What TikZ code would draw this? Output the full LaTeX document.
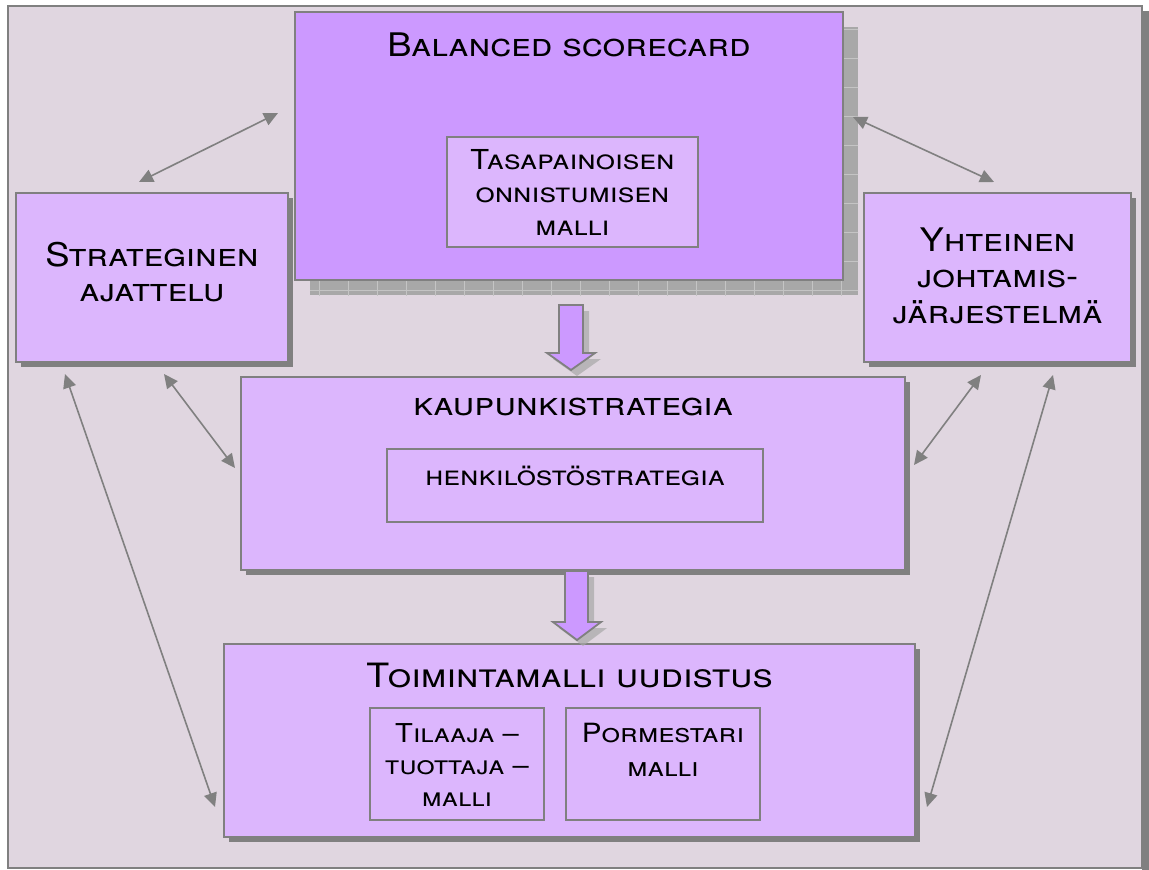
\documentclass[tikz,border=0pt]{standalone}
\usepackage{fontspec}
\setmainfont{TeX Gyre Heros}[FakeStretch=1.12]
\usetikzlibrary{arrows.meta,calc,shadows}
\definecolor{framebg}{HTML}{E0D6E0}
\definecolor{edge}{HTML}{808080}
\definecolor{bscfill}{HTML}{CC99FF}
\definecolor{boxfill}{HTML}{DCB6FD}
\definecolor{tilegray}{HTML}{A8A8A8}
\definecolor{tileline}{HTML}{C4C4C4}
\tikzset{
  card/.style={rectangle, draw=edge, line width=2pt, fill=boxfill, inner sep=0pt},
  shadowed/.style={drop shadow={shadow xshift=5pt, shadow yshift=-5pt, fill=edge, opacity=1}},
  caption/.style={font=\scshape, align=center, text=black, inner sep=0pt},
  conn/.style={draw=edge, line width=1.6pt,
    {Triangle[length=14pt,width=13pt]}-{Triangle[length=14pt,width=13pt]}},
  blockarrow/.style={draw=edge, line width=1.8pt, fill=bscfill, line join=miter},
  arrowshade/.style={fill=tilegray, opacity=0.7},
}
\newcommand{\fs}[2]{\fontsize{#1}{#2}\selectfont}
\begin{document}
\begin{tikzpicture}[x=1pt, y=-1pt]
\useasboundingbox (0,0) rectangle (1149,870);

% outer frame with its shadow on the right
\fill[edge] (1142,11) rectangle (1149,870);
\node[rectangle, draw=edge, line width=2pt, fill=framebg, inner sep=0pt,
      minimum width=1134pt, minimum height=862pt] (frame) at (575,437) {};

% balanced scorecard: tiled shadow, then the box
\fill[tilegray] (310,27) rectangle (858,295);
\begin{scope}
  \clip (310,27) rectangle (858,295);
  \draw[tileline, line width=0.8pt, step=29pt] (300,20) grid (870,300);
\end{scope}
\node[card, fill=bscfill, minimum width=548pt, minimum height=268pt] (bsc) at (569,146) {};
\node[caption, font=\scshape\fs{32.5}{32}] (bsctitle) at (569,45) {Balanced scorecard};
\node[card, minimum width=251pt, minimum height=110pt] (tas) at (572.5,192) {};
\node[caption, font=\scshape\fs{27.5}{33}] (tastext) at (572.5,192)
  {Tasapainoisen\\onnistumisen\\malli};

% side boxes
\node[card, shadowed, minimum width=272pt, minimum height=169pt] (strat) at (152,277.5) {};
\node[caption, font=\scshape\fs{32.5}{35}] (strattext) at (152,272)
  {Strateginen\\ajattelu};
\node[card, shadowed, minimum width=267pt, minimum height=169pt] (yht) at (997.5,277.5) {};
\node[caption, font=\scshape\fs{32.5}{36}] (yhttext) at (997.5,276)
  {Yhteinen\\johtamis-\\järjestelmä};

% city strategy
\node[card, shadowed, minimum width=664pt, minimum height=193pt] (kaup) at (573,473.5) {};
\node[caption, font=\scshape\fs{32.5}{32}] (kauptitle) at (573,407) {kaupunkistrategia};
\node[card, minimum width=376pt, minimum height=73pt] (henk) at (575,485.5) {};
\node[caption, font=\scshape\fs{27.5}{28}] (henktext) at (575,476) {henkilöstöstrategia};

% operating model reform
\node[card, shadowed, minimum width=691pt, minimum height=193pt] (toim) at (569.5,740.5) {};
\node[caption, font=\scshape\fs{33.5}{33}] (toimtitle) at (569.5,675) {Toimintamalli uudistus};
\node[card, minimum width=174pt, minimum height=112pt] (tila) at (457,764) {};
\node[caption, font=\scshape\fs{26}{32}] (tilatext) at (457,765)
  {Tilaaja –\\tuottaja –\\malli};
\node[card, minimum width=194pt, minimum height=112pt] (porm) at (663,764) {};
\node[caption, font=\scshape\fs{26.5}{34}] (pormtext) at (663,750)
  {Pormestari\\malli};

% block arrows with their shades
\fill[arrowshade] (565,311) -- (589,311) -- (589,359) -- (601,359) -- (577,376) -- (553,359) -- (565,359) -- cycle;
\draw[blockarrow] (559,305) -- (583,305) -- (583,353) -- (595,353) -- (571,370) -- (547,353) -- (559,353) -- cycle;
\fill[arrowshade] (571,577) -- (594,577) -- (594,628) -- (607,628) -- (583,646) -- (559,628) -- (571,628) -- cycle;
\draw[blockarrow] (565,571) -- (588,571) -- (588,622) -- (601,622) -- (577,640) -- (553,622) -- (565,622) -- cycle;

% two-way connectors
\draw[conn] ($(strat.north west)+(124,-10)$) -- ($(bsc.north west)+(-16,102)$);
\draw[conn] ($(bsc.north east)+(9,106)$) -- ($(yht.north west)+(131,-10)$);
\draw[conn] ($(strat.south west)+(149,11)$) -- ($(kaup.north west)+(-5,92)$);
\draw[conn] ($(strat.south west)+(50,11)$) -- ($(toim.north west)+(-8,164)$);
\draw[conn] ($(yht.south west)+(118,12)$) -- ($(kaup.north east)+(8,89)$);
\draw[conn] ($(yht.south west)+(190,12)$) -- ($(toim.north east)+(11,164)$);
\end{tikzpicture}
\end{document}
